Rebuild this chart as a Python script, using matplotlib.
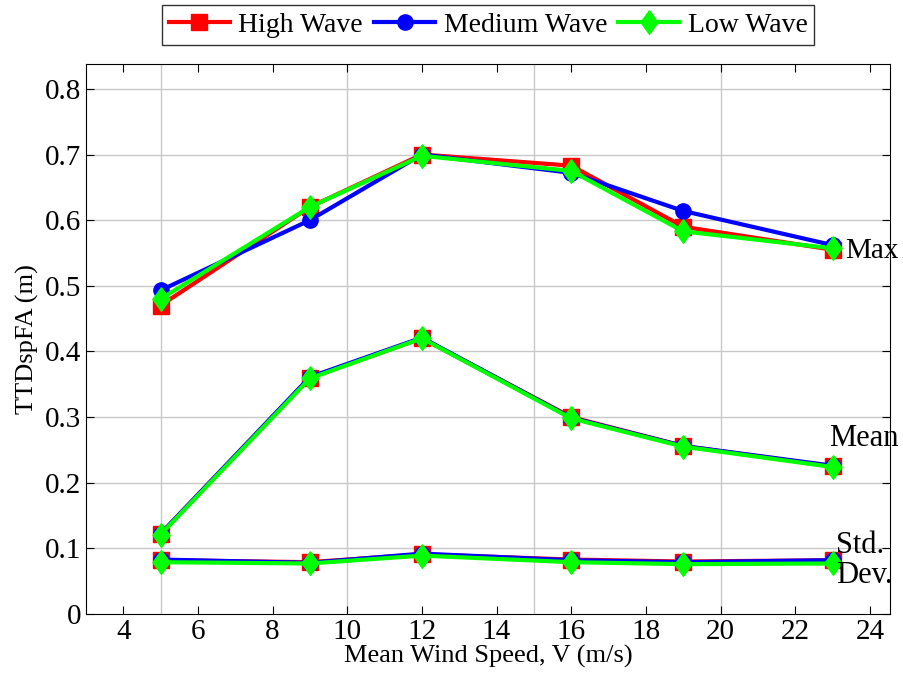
import numpy as np
import matplotlib.pyplot as plt

plt.rcParams['font.family'] = ['Liberation Serif', 'DejaVu Serif']

wind_speed = [5, 9, 12, 16, 19, 23]

# Max
high_max = [0.470, 0.620, 0.700, 0.683, 0.590, 0.555]
medium_max = [0.493, 0.600, 0.700, 0.672, 0.614, 0.562]
low_max = [0.480, 0.620, 0.698, 0.675, 0.583, 0.557]

# Mean
high_mean = [0.122, 0.360, 0.420, 0.300, 0.256, 0.225]
medium_mean = [0.122, 0.361, 0.421, 0.299, 0.256, 0.226]
low_mean = [0.121, 0.359, 0.420, 0.298, 0.255, 0.224]

# Std. Dev.
high_std = [0.082, 0.079, 0.091, 0.083, 0.080, 0.082]
medium_std = [0.083, 0.078, 0.092, 0.082, 0.079, 0.082]
low_std = [0.079, 0.077, 0.089, 0.079, 0.076, 0.077]

# matlab-like diamond, a bit taller than wide
diamond = [(0, 1), (0.72, 0), (0, -1), (-0.72, 0), (0, 1)]

fig = plt.figure(figsize=(9.04, 6.80), dpi=100)
ax = fig.add_axes([0.095, 0.097, 0.890, 0.809])

styles = [
    ('High Wave', 'red', 's', 11, [high_max, high_mean, high_std]),
    ('Medium Wave', 'blue', 'o', 11, [medium_max, medium_mean, medium_std]),
    ('Low Wave', '#00ff00', diamond, 17, [low_max, low_mean, low_std]),
]

for name, color, marker, ms, groups in styles:
    for i, vals in enumerate(groups):
        ax.plot(wind_speed, vals, color=color, marker=marker, markersize=ms,
                linewidth=3, label=name if i == 0 else None)

# grid at multiples of 5 on x, every 0.1 on y
for gx in [5, 10, 15, 20]:
    ax.axvline(gx, color='#c8c8c8', linewidth=1.0, zorder=0)
for gy in np.arange(0.1, 0.81, 0.1):
    ax.axhline(gy, color='#c8c8c8', linewidth=1.0, zorder=0)

ax.set_xlim(3, 24.55)
ax.set_ylim(0, 0.838)
ax.set_xticks(range(4, 25, 2))
ax.set_yticks([0, 0.1, 0.2, 0.3, 0.4, 0.5, 0.6, 0.7, 0.8])
ax.set_yticklabels(['0', '0.1', '0.2', '0.3', '0.4', '0.5', '0.6', '0.7', '0.8'])
ax.tick_params(direction='in', top=True, right=True, labelsize=21, length=6)

ax.set_xlabel('Mean Wind Speed, V (m/s)', fontsize=19, labelpad=0)
ax.set_ylabel('TTDspFA (m)', fontsize=19, labelpad=4)

ax.text(23.33, 0.553, 'Max', fontsize=21, va='center', ha='left')
ax.text(22.9, 0.268, 'Mean', fontsize=22, va='center', ha='left')
ax.text(23.1, 0.081, 'Std.\nDev.', fontsize=22, va='center', ha='left', linespacing=1.05)

leg = ax.legend(loc='lower center', bbox_to_anchor=(0.5, 1.01), ncol=3, fontsize=20,
                frameon=True, fancybox=False, edgecolor='black', handlelength=2.2,
                handletextpad=0.3, columnspacing=0.4, borderpad=0.25)
leg.get_frame().set_linewidth(1.0)

plt.savefig('out.png', dpi=100)
